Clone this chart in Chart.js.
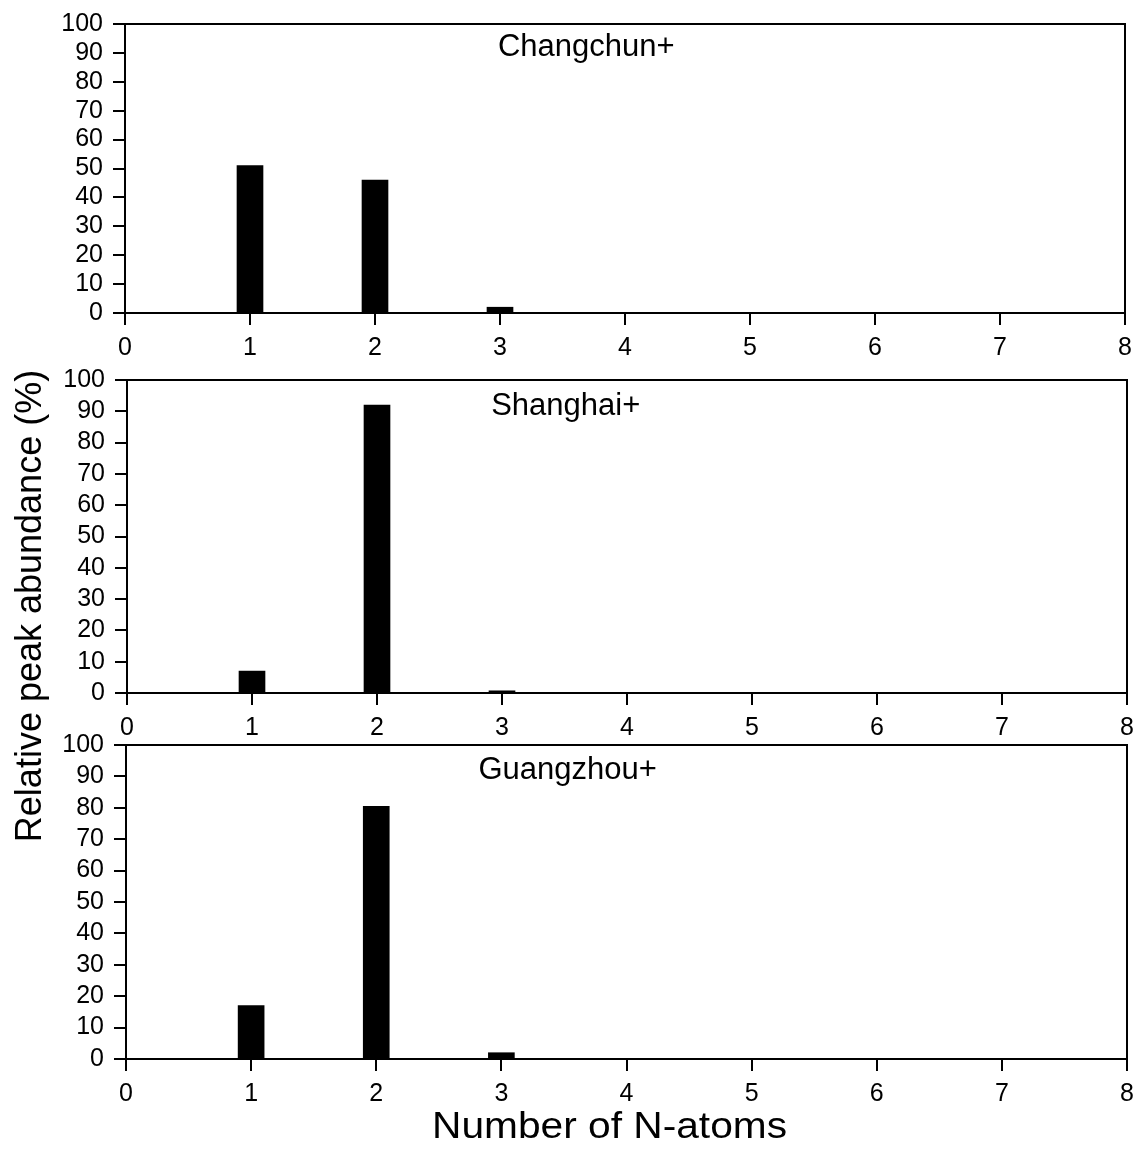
<!DOCTYPE html>
<html>
<head>
<meta charset="utf-8">
<script src="https://cdn.jsdelivr.net/npm/chart.js@4/dist/chart.umd.min.js"></script>
<style>
  html, body { margin: 0; padding: 0; background: #fff; }
  #wrap { position: relative; width: 1136px; height: 1149px; }
  #wrap canvas { position: absolute; left: 0; top: 0; }
</style>
</head>
<body>
<div id="wrap">
  <canvas id="c1" width="1136" height="1149"></canvas>
  <canvas id="c2" width="1136" height="1149"></canvas>
  <canvas id="c3" width="1136" height="1149"></canvas>
</div>
<script>
// ---- data ----
const nAtoms = [1, 2, 3];
const changchun = [51, 46, 2];
const shanghai = [7, 92, 0.7];
const guangzhou = [17, 80.5, 2];
const panelNames = ['Changchun+', 'Shanghai+', 'Guangzhou+'];
const xTickValues = [0, 1, 2, 3, 4, 5, 6, 7, 8];
const yTickValues = [0, 10, 20, 30, 40, 50, 60, 70, 80, 90, 100];
const xAxisTitle = 'Number of N-atoms';
const yAxisTitle = 'Relative peak abundance (%)';

const W = 1136, H = 1149;
const FONT = "'Liberation Sans', Arial, sans-serif";

// panel layout (pixels)
const panels = [
  { id: 'c1', values: changchun, name: panelNames[0], left: 125, right: 1125, top: 24, bottom: 313, axisH: 47, titleX: 3.69, titleY: 92 },
  { id: 'c2', values: shanghai,  name: panelNames[1], left: 127, right: 1127, top: 380, bottom: 693, axisH: 47, titleX: 3.51, titleY: 91.4 },
  { id: 'c3', values: guangzhou, name: panelNames[2], left: 126, right: 1127, top: 745, bottom: 1059, axisH: 90, titleX: 3.53, titleY: 92, last: true }
];

const framePlugin = {
  id: 'frame',
  afterDraw(chart, args, opts) {
    const ctx = chart.ctx, a = chart.chartArea;
    ctx.save();
    ctx.strokeStyle = '#000';
    ctx.lineWidth = 2;
    ctx.beginPath();
    ctx.moveTo(a.left, a.bottom);
    ctx.lineTo(a.left, a.top);
    ctx.lineTo(a.right, a.top);
    ctx.lineTo(a.right, a.bottom);
    ctx.stroke();
    // panel label
    const xs = chart.scales.x, ys = chart.scales.y;
    ctx.fillStyle = '#000';
    ctx.font = '31px ' + FONT;
    ctx.textAlign = 'center';
    ctx.textBaseline = 'middle';
    ctx.fillText(opts.name, xs.getPixelForValue(opts.tx), ys.getPixelForValue(opts.ty));
    if (opts.xTitle) {
      ctx.save();
      ctx.font = '36px ' + FONT;
      const w = ctx.measureText(opts.xTitle).width;
      const sx = 355 / w;
      ctx.translate(609.5, 1128);
      ctx.scale(sx, 1);
      ctx.fillText(opts.xTitle, 0, 0);
      ctx.restore();
    }
    if (opts.yTitle) {
      ctx.translate(31, 606);
      ctx.rotate(-Math.PI / 2);
      ctx.font = '36px ' + FONT;
      ctx.fillText(opts.yTitle, 0, 0);
    }
    ctx.restore();
  }
};

panels.forEach((p, idx) => {
  new Chart(document.getElementById(p.id), {
    type: 'bar',
    data: {
      datasets: [{
        data: nAtoms.map((n, i) => ({ x: n, y: p.values[i] })),
        backgroundColor: '#000',
        borderWidth: 0,
        barThickness: 26
      }]
    },
    plugins: [framePlugin],
    options: {
      responsive: false,
      animation: false,
      devicePixelRatio: 1,
      layout: {
        padding: { left: 0, top: p.top, right: W - p.right, bottom: H - p.bottom - p.axisH }
      },
      plugins: {
        legend: { display: false },
        tooltip: { enabled: false },
        frame: { name: p.name, tx: p.titleX, ty: p.titleY, yTitle: idx === 1 ? yAxisTitle : null, xTitle: p.last ? xAxisTitle : null }
      },
      scales: {
        x: {
          type: 'linear',
          min: 0, max: 8,
          offset: false,
          afterFit(s) { s.height = p.axisH; s.paddingLeft = 0; s.paddingRight = 0; },
          afterBuildTicks(s) { s.ticks = xTickValues.map(v => ({ value: v })); },
          grid: { display: true, drawOnChartArea: false, drawTicks: true, tickLength: 12, color: '#000', lineWidth: 2, offset: false },
          border: { display: true, color: '#000', width: 2 },
          ticks: { color: '#000', font: { family: FONT, size: 25 }, padding: 8, maxRotation: 0, autoSkip: false },
          title: { display: false }
        },
        y: {
          min: 0, max: 100,
          afterFit(s) { s.width = p.left; s.paddingTop = 0; s.paddingBottom = 0; },
          afterBuildTicks(s) { s.ticks = yTickValues.map(v => ({ value: v })); },
          grid: { display: true, drawOnChartArea: false, drawTicks: true, tickLength: 12, color: '#000', lineWidth: 2 },
          border: { display: true, color: '#000', width: 2 },
          ticks: { color: '#000', font: { family: FONT, size: 25 }, padding: 10, autoSkip: false }
        }
      }
    }
  });
});
</script>
</body>
</html>
